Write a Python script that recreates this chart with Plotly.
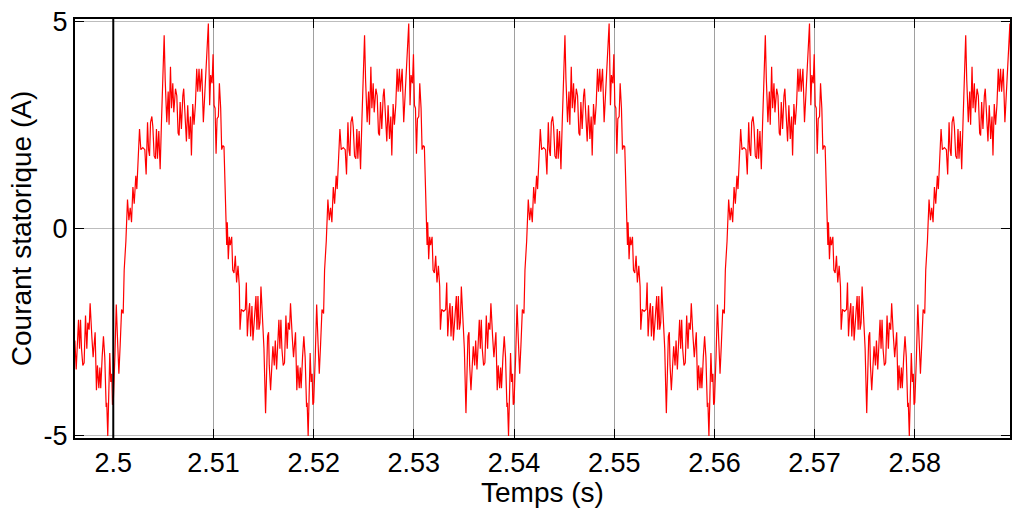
import plotly.graph_objects as go

# One electrical period (20 ms) of the stator current
# time offset inside the period (ms) and current (A)
cycle_ms = [
    0.00, 0.16, 0.30, 0.43, 0.56, 0.69, 0.83, 0.99, 1.09, 1.26, 1.42, 1.56, 1.69, 1.82, 1.96,
    2.09, 2.25, 2.35, 2.49, 2.62, 2.75, 2.95, 3.15, 3.28, 3.42, 3.52, 3.62, 3.72, 3.85, 3.95,
    4.08, 4.21, 4.31, 4.41, 4.54, 4.68, 4.81, 4.98, 5.08, 5.18, 5.34, 5.48, 5.57, 5.71, 5.81,
    5.94, 6.04, 6.21, 6.34, 6.47, 6.57, 6.67, 6.80, 6.94, 7.03, 7.20, 7.30, 7.43, 7.57, 7.70,
    7.80, 7.93, 8.06, 8.20, 8.33, 8.43, 8.56, 8.66, 8.83, 8.99, 9.16, 9.36, 9.49, 9.62, 9.72,
    9.86, 9.96, 10.06, 10.16, 10.26, 10.36, 10.49, 10.59, 10.72, 10.82, 10.95, 11.05, 11.32,
    11.38, 11.48, 11.58, 11.68, 11.82, 11.92, 12.05, 12.18, 12.31, 12.45, 12.58, 12.65, 12.78,
    12.98, 13.18, 13.28, 13.38, 13.51, 13.61, 13.71, 13.84, 13.94, 14.07, 14.24, 14.34, 14.44,
    14.54, 14.64, 14.74, 14.87, 15.04, 15.20, 15.30, 15.40, 15.50, 15.57, 15.70, 15.83, 15.93,
    16.07, 16.17, 16.30, 16.43, 16.53, 16.63, 16.73, 16.83, 16.96, 17.09, 17.23, 17.36, 17.46,
    17.59, 17.69, 17.86, 17.99, 18.19, 18.32, 18.42, 18.56, 18.66, 18.75, 18.89, 19.02, 19.15,
    19.29, 19.35, 19.45, 19.55, 19.65, 19.75, 19.85, 19.92,
]
cycle_amp = [
    -4.2, -3.1, -1.83, -2.7, -3.5, -2.8, -1.95, -2.05, -1.0, -0.3, 0.7, 0.2, 0.5, 0.15, 1.0,
    0.6, 1.27, 0.95, 1.55, 2.4, 1.9, 1.95, 1.9, 1.3, 2.56, 1.9, 1.75, 2.56, 2.7, 2.45,
    1.75, 1.68, 2.4, 1.68, 2.35, 1.43, 2.56, 4.1, 4.66, 3.6, 2.56, 3.3, 2.5, 3.9, 2.9,
    3.5, 2.8, 3.37, 3.2, 2.3, 2.24, 3.05, 2.4, 3.2, 3.37, 2.56, 2.1, 2.97, 2.16, 2.7,
    1.76, 3.0, 2.5, 3.0, 3.85, 3.3, 3.85, 3.3, 3.85, 2.56, 3.37, 4.3, 4.94, 2.97, 3.7,
    3.5, 4.2, 2.97, 2.9, 1.8, 2.65, 2.7, 3.5, 2.9, 1.9, 2.0, 1.97, -0.4,
    0.15, -0.74, -0.2, -0.4, -0.2, -1.0, -1.07, -0.66, -1.3, -0.9, -1.4, -2.44, -1.95,
    -2.0, -1.95, -1.3, -2.6, -2.03, -1.8, -2.6, -1.87, -2.7, -2.27, -1.63, -2.44, -1.63,
    -2.44, -2.27, -1.4, -2.1, -2.9, -4.45, -3.4, -2.6, -2.5, -3.3, -3.9, -3.1, -2.84,
    -3.3, -2.7, -3.4, -2.6, -2.2, -2.9, -2.2, -2.9, -3.3, -3.24, -2.1, -2.9, -2.27,
    -2.44, -1.8, -2.6, -3.1, -2.5, -3.9, -3.3, -3.85, -3.35, -3.85, -3.1, -2.6, -3.1,
    -4.3, -4.2, -5.0, -3.55, -3.0, -3.7, -3.5, -4.25,
]
period_start = [2.48, 2.50, 2.52, 2.54, 2.56, 2.58]   # starts of the plotted periods (s)
marker_time = [2.50]                                  # black vertical marker (s)

x_ticks = [2.50, 2.51, 2.52, 2.53, 2.54, 2.55, 2.56, 2.57, 2.58]
x_tick_labels = ["2.5", "2.51", "2.52", "2.53", "2.54", "2.55", "2.56", "2.57", "2.58"]
y_ticks = [-5, 0, 5]
y_tick_labels = ["-5", "0", "5"]
x_limits = [2.49618, 2.5895]
y_limits = [-5.05, 5.05]

t, i_s = [], []
for t0 in period_start:
    for ms, a in zip(cycle_ms, cycle_amp):
        tt = t0 + ms / 1000.0
        if x_limits[0] - 0.0002 <= tt <= x_limits[1] + 0.0002:
            t.append(tt)
            i_s.append(a)

FONT = "Liberation Sans, Arial, sans-serif"

fig = go.Figure()
fig.add_trace(go.Scatter(x=t, y=i_s, mode="lines",
                         line=dict(color="#ff0000", width=1.2),
                         showlegend=False, hoverinfo="skip"))
for xm in marker_time:
    fig.add_shape(type="line", x0=xm, x1=xm, xref="x", y0=0, y1=1, yref="paper",
                  line=dict(color="black", width=2))

fig.update_layout(
    width=1018, height=508,
    margin=dict(l=75, r=6, t=19, b=70),
    paper_bgcolor="white", plot_bgcolor="white",
    font=dict(family=FONT, size=27, color="black"),
    showlegend=False,
)
fig.update_xaxes(
    range=x_limits, tickmode="array", tickvals=x_ticks, ticktext=x_tick_labels,
    showgrid=True, gridcolor="#a0a0a0", gridwidth=1,
    showline=True, linecolor="black", linewidth=2, mirror="ticks",
    ticks="inside", ticklen=9, tickwidth=1, tickcolor="black",
    zeroline=False,
    title=dict(text="Temps (s)", font=dict(family=FONT, size=28), standoff=0),
    tickfont=dict(family=FONT, size=27),
)
fig.update_yaxes(
    range=y_limits, tickmode="array", tickvals=y_ticks, ticktext=y_tick_labels,
    showgrid=True, gridcolor="#bdbdbd", gridwidth=1,
    showline=True, linecolor="black", linewidth=2, mirror="ticks",
    ticks="inside", ticklen=9, tickwidth=1, tickcolor="black",
    zeroline=False,
    title=dict(text="Courant statorique (A)", font=dict(family=FONT, size=28), standoff=4),
    tickfont=dict(family=FONT, size=27),
)

fig.write_html("out.html")
